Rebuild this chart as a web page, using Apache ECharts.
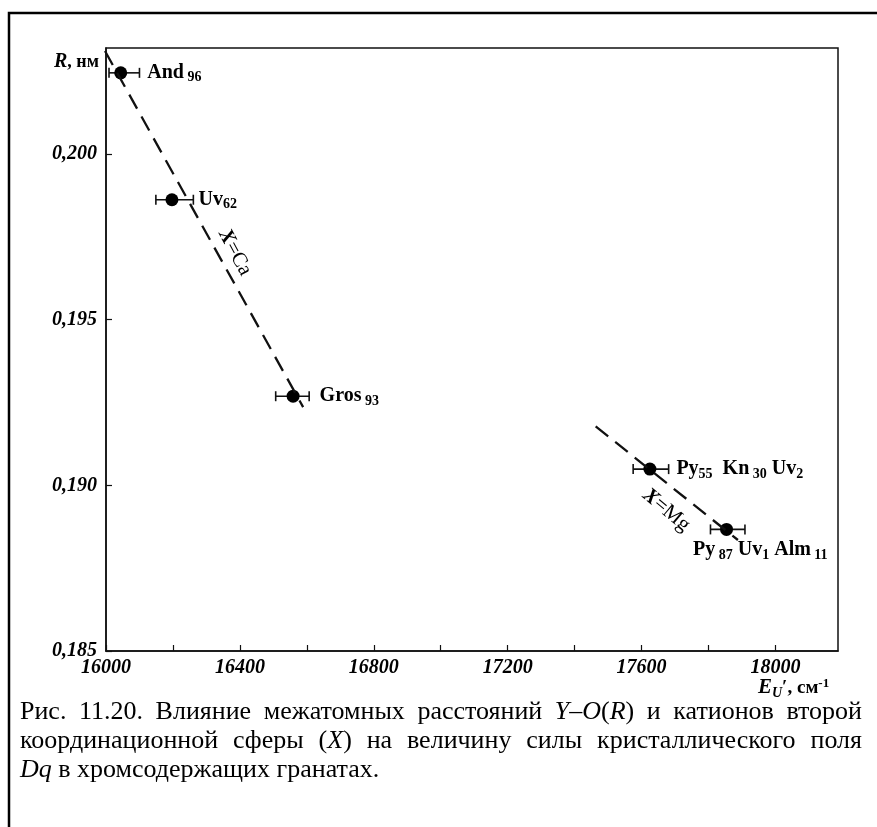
<!DOCTYPE html>
<html><head><meta charset="utf-8">
<script src="https://cdn.jsdelivr.net/npm/echarts@6/dist/echarts.min.js"></script>
<style>html,body{margin:0;padding:0;background:#fff}#c{width:877px;height:827px}</style>
</head><body><div id="c"></div>
<script>
// ---- data ----
const pointLabels = [
  '{b|And}{s| 96}',
  '{b|Uv}{s|62}',
  '{b|Gros}{s| 93}',
  '{b|Py}{s|55}{b|  Kn}{s| 30}{b| Uv}{s|2}',
  '{b|Py}{s| 87}{b| Uv}{s|1}{b| Alm}{s| 11}'
];
const energy = [16044, 16197, 16559, 17625, 17854];      // E_U, cm-1
const distance = [0.20245, 0.19862, 0.19269, 0.19049, 0.18867]; // R, nm
const errLeft = [35, 48, 52, 50, 48];
const errRight = [56, 64, 48, 56, 55];
const caLine = [[15997, 0.20311], [16589, 0.19236]];
const mgLine = [[17463, 0.19178], [17888, 0.18835]];
const lineLabels = ['{i|X}{n|=Ca}', '{i|X}{n|=Mg}'];
const lineLabelPos = [[16385, 0.19703], [17674, 0.18925]];
const xMin = 16000, xMax = 18187, xStep = 200, xLabelStep = 400;
const yMin = 0.185, yMax = 0.2032, yStep = 0.005;
const captionLines = [
  'Рис. 11.20. Влияние межатомных расстояний *Y*–*O*(*R*) и катионов второй',
  'координационной сферы (*X*) на величину силы кристаллического поля',
  '*Dq* в хромсодержащих гранатах.'
];

const SERIF = '"Liberation Serif", "DejaVu Serif", serif';
const chart = echarts.init(document.getElementById('c'), null, {renderer: 'canvas'});

const pointData = energy.map((x, i) => ({
  value: [x, distance[i]],
  label: i === 4
    ? {position: [-27, 27], align: 'left', verticalAlign: 'middle'}
    : {position: 'right', distance: 20}
}));
const errData = energy.map((x, i) => [x, distance[i], errLeft[i], errRight[i]]);

const richPt = {
  b: {fontFamily: SERIF, fontWeight: 'bold', fontSize: 20, color: '#000'},
  s: {fontFamily: SERIF, fontWeight: 'bold', fontSize: 14, color: '#000', padding: [10, 0, 0, 0]}
};

function buildOption() {
  return {
    animation: false,
    backgroundColor: '#fff',
    grid: {left: 106, top: 48, right: 39, bottom: 176, show: true, borderColor: '#111', borderWidth: 1.5, containLabel: false},
    xAxis: {
      type: 'value', min: xMin, max: xMax, interval: xStep,
      axisLine: {lineStyle: {color: '#111', width: 1.5}},
      axisTick: {inside: true, length: 6, lineStyle: {color: '#111', width: 1.2}},
      splitLine: {show: false},
      axisLabel: {
        margin: 7, color: '#000', fontFamily: SERIF, fontStyle: 'italic', fontWeight: 'bold', fontSize: 20,
        showMaxLabel: false,
        formatter: v => (Math.round(v) % xLabelStep === 0 && v <= 18000) ? String(v) : ''
      }
    },
    yAxis: {
      type: 'value', min: yMin, max: yMax, interval: yStep,
      axisLine: {lineStyle: {color: '#111', width: 1.5}},
      axisTick: {inside: true, length: 6, lineStyle: {color: '#111', width: 1.2}},
      splitLine: {show: false},
      axisLabel: {
        margin: 9, color: '#000', fontFamily: SERIF, fontStyle: 'italic', fontWeight: 'bold', fontSize: 20,
        showMaxLabel: false,
        formatter: v => (Math.round(v * 1000) % 5 === 0) ? v.toFixed(3).replace('.', ',') : ''
      }
    },
    series: [
      {type: 'line', data: caLine, symbol: 'none', silent: true,
        lineStyle: {color: '#111', width: 2.3, type: [16, 9]}},
      {type: 'line', data: mgLine, symbol: 'none', silent: true,
        lineStyle: {color: '#111', width: 2.3, type: [16, 9]}},
      {type: 'custom', data: errData, silent: true,
        renderItem: (params, api) => {
          const x = api.value(0), y = api.value(1);
          const lo = api.coord([x - api.value(2), y]);
          const hi = api.coord([x + api.value(3), y]);
          const st = {stroke: '#111', lineWidth: 1.6};
          return {type: 'group', children: [
            {type: 'line', shape: {x1: lo[0], y1: lo[1], x2: hi[0], y2: hi[1]}, style: st},
            {type: 'line', shape: {x1: lo[0], y1: lo[1] - 5, x2: lo[0], y2: lo[1] + 5}, style: st},
            {type: 'line', shape: {x1: hi[0], y1: hi[1] - 5, x2: hi[0], y2: hi[1] + 5}, style: st}
          ]};
        }},
      {type: 'scatter', data: pointData, symbol: 'circle', symbolSize: 13, silent: true,
        itemStyle: {color: '#000', opacity: 1},
        label: {show: true, formatter: p => pointLabels[p.dataIndex], rich: richPt}},
      {type: 'scatter', data: lineLabelPos, symbolSize: 0, silent: true,
        itemStyle: {opacity: 1},
        label: {show: true, position: 'inside', formatter: p => lineLabels[p.dataIndex],
          rich: {
            i: {fontFamily: SERIF, fontStyle: 'italic', fontWeight: 'bold', fontSize: 21, color: '#000'},
            n: {fontFamily: SERIF, fontSize: 21, color: '#000'}
          }},
        labelLayout: p => ({rotate: p.dataIndex === 0 ? -62 : -40})
      }
    ]
  };
}
chart.setOption(buildOption());

// ---- caption with justification ----
const CAP_SIZE = 26, CAP_L = 20, CAP_R = 862, CAP_Y0 = 712, CAP_DY = 29;
const mctx = document.createElement('canvas').getContext('2d');
function parseWord(w) {
  const parts = w.split('*');
  const segs = [];
  parts.forEach((t, k) => { if (t) segs.push({t, it: k % 2 === 1}); });
  return segs;
}
function wordWidth(segs) {
  let w = 0;
  segs.forEach(s => { mctx.font = (s.it ? 'italic ' : '') + CAP_SIZE + 'px ' + SERIF; w += mctx.measureText(s.t).width; });
  return w;
}
mctx.font = CAP_SIZE + 'px ' + SERIF;
const spaceW = mctx.measureText(' ').width;
const graphics = [];
captionLines.forEach((line, li) => {
  const words = line.split(' ').map(parseWord);
  const widths = words.map(wordWidth);
  const total = widths.reduce((a, b) => a + b, 0);
  const justify = li < captionLines.length - 1;
  const gap = justify ? (CAP_R - CAP_L - total) / (words.length - 1) : spaceW;
  let x = CAP_L;
  words.forEach((segs, wi) => {
    graphics.push({
      type: 'text', left: x, top: CAP_Y0 + li * CAP_DY - CAP_SIZE / 2, silent: true,
      style: {
        text: segs.map(s => '{' + (s.it ? 'i' : 'n') + '|' + s.t + '}').join(''),
        rich: {
          n: {fontFamily: SERIF, fontSize: CAP_SIZE, fill: '#000'},
          i: {fontFamily: SERIF, fontSize: CAP_SIZE, fontStyle: 'italic', fill: '#000'}
        }
      }
    });
    x += widths[wi] + gap;
  });
});

// frame
graphics.push({type: 'rect', shape: {x: 9, y: 13, width: 900, height: 900}, silent: true,
  style: {fill: 'none', stroke: '#000', lineWidth: 2.5}, z: 100});
// y axis name
graphics.push({type: 'text', right: 877 - 99, top: 52, silent: true,
  style: {text: '{i|R}{n|, нм}', rich: {
    i: {fontFamily: SERIF, fontStyle: 'italic', fontWeight: 'bold', fontSize: 20, fill: '#000'},
    n: {fontFamily: SERIF, fontWeight: 'bold', fontSize: 18, fill: '#000'}
  }}});
// x axis name
graphics.push({type: 'text', left: 758, top: 677, silent: true,
  style: {text: '{e|E}{u|U}{n|′, см}{p|-1}', rich: {
    e: {fontFamily: SERIF, fontStyle: 'italic', fontWeight: 'bold', fontSize: 21, fill: '#000'},
    u: {fontFamily: SERIF, fontStyle: 'italic', fontWeight: 'bold', fontSize: 14, fill: '#000', padding: [11, 0, 0, 0]},
    n: {fontFamily: SERIF, fontWeight: 'bold', fontSize: 19, fill: '#000'},
    p: {fontFamily: SERIF, fontWeight: 'bold', fontSize: 13, fill: '#000', padding: [0, 0, 9, 0]}
  }}});
chart.setOption({graphic: graphics});
</script>
</body></html>
